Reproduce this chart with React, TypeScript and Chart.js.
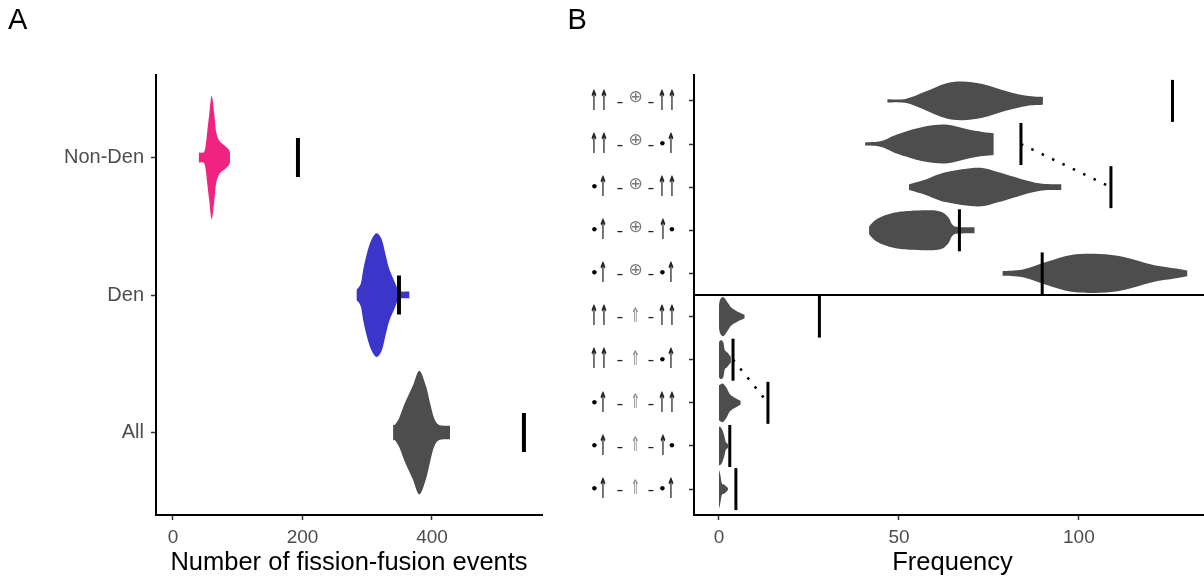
import React, { useEffect, useRef } from "react";
import { Chart, registerables } from "chart.js";

Chart.register(...registerables);
Chart.defaults.font.family = "'Liberation Sans', Arial, Helvetica, sans-serif";

// ---------- Panel A data ----------
const groupsA = ["Non-Den", "Den", "All"];
const colorsA = ["#F02480", "#3B35C9", "#4D4D4D"];
const xTicksA = [0, 200, 400];
// [value, relative density] along each violin
const violinNonDen: [number, number][] = [
  [40, 0.08], [48, 0.09], [51, 0.24], [53, 0.43], [56, 0.7], [59.7, 1],
  [63.8, 0.7], [66.4, 0.43], [71.5, 0.27], [80, 0.19], [86, 0.13], [88, 0.08],
];
const violinDen: [number, number][] = [
  [283.7, 0.085], [290, 0.18], [294, 0.42], [300, 0.69], [306.8, 0.9], [314.5, 1],
  [322.3, 0.9], [327.4, 0.69], [334, 0.42], [342.9, 0.2], [348, 0.07], [352, 0.055], [365, 0.055],
];
const violinAll: [number, number][] = [
  [340, 0.13], [343, 0.13], [349.5, 0.24], [358.3, 0.48], [370.2, 0.75], [380.4, 1],
  [390.7, 0.75], [396.9, 0.48], [403, 0.24], [409.8, 0.13], [420, 0.11], [427.8, 0.11],
];
const observedA = [193, 349, 542];

// ---------- Panel B data ----------
const motifsB = [
  "↑↑ - ⊕ - ↑↑",
  "↑↑ - ⊕ - •↑",
  "•↑ - ⊕ - ↑↑",
  "•↑ - ⊕ - ↑•",
  "•↑ - ⊕ - •↑",
  "↑↑ - ⇑ - ↑↑",
  "↑↑ - ⇑ - •↑",
  "•↑ - ⇑ - ↑↑",
  "•↑ - ⇑ - ↑•",
  "•↑ - ⇑ - •↑",
];
const xTicksB = [0, 50, 100];
const violin1: [number, number][] = [[46.8, 0.08], [51.8, 0.1], [57.4, 0.48], [63, 0.9], [67.6, 1], [73.2, 0.87], [79.9, 0.5], [85.5, 0.26], [90, 0.2]];
const violin2: [number, number][] = [[40.6, 0.08], [45.1, 0.15], [49.6, 0.5], [56.3, 0.87], [63, 1], [68.7, 0.77], [73.2, 0.62], [76.3, 0.56]];
const violin3: [number, number][] = [[52.8, 0.15], [57.4, 0.4], [63, 0.77], [72, 1], [77.7, 0.77], [84.4, 0.4], [88.9, 0.2], [92.2, 0.15], [95.1, 0.15]];
const violin4: [number, number][] = [[41.7, 0.2], [44, 0.6], [48.5, 0.9], [53, 1], [60.8, 1], [63.6, 0.7], [64.8, 0.3], [66.4, 0.17], [71, 0.15]];
const violin5: [number, number][] = [[78.8, 0.12], [84.4, 0.2], [91.1, 0.6], [97.9, 0.95], [105.7, 1], [112.5, 0.85], [120.4, 0.45], [127.1, 0.25], [130.1, 0.15]];
const violin6: [number, number][] = [[0, 0.6], [0.4, 0.9], [1.3, 1], [2.5, 0.7], [3.5, 0.45], [5.2, 0.25], [7.1, 0.1]];
const violin7: [number, number][] = [[0, 0.9], [0.5, 1], [1.2, 0.9], [1.6, 0.5], [2.2, 0.4], [3.3, 0.15]];
const violin8: [number, number][] = [[0, 0.9], [1, 1], [2, 0.8], [3, 0.45], [4, 0.3], [5, 0.2], [6, 0.1]];
const violin9: [number, number][] = [[0, 1], [0.5, 0.95], [1, 0.8], [1.5, 0.5], [1.9, 0.2], [2.5, 0.1]];
const violin10: [number, number][] = [[0, 1], [0.3, 0.8], [0.8, 0.3], [1.3, 0.25], [2, 0.15], [2.5, 0.05]];
const observedB = [126, 83.9, 108.9, 66.8, 89.8, 27.9, 3.9, 13.6, 3, 4.7];
const linkedPairsB: [number, number][] = [[1, 2], [6, 7]];
const separatorB = 4.5;

const violinsA = [violinNonDen, violinDen, violinAll];
const violinsB = [violin1, violin2, violin3, violin4, violin5, violin6, violin7, violin8, violin9, violin10];

function smoothPath(ctx: CanvasRenderingContext2D, pts: { x: number; y: number }[], move: boolean) {
  if (move) ctx.moveTo(pts[0].x, pts[0].y);
  else ctx.lineTo(pts[0].x, pts[0].y);
  for (let i = 0; i < pts.length - 1; i++) {
    const p0 = pts[Math.max(0, i - 1)];
    const p1 = pts[i];
    const p2 = pts[i + 1];
    const p3 = pts[Math.min(pts.length - 1, i + 2)];
    const c1x = p1.x + (p2.x - p0.x) / 6;
    const c1y = p1.y + (p2.y - p0.y) / 6;
    const c2x = p2.x - (p3.x - p1.x) / 6;
    const c2y = p2.y - (p3.y - p1.y) / 6;
    ctx.bezierCurveTo(c1x, c1y, c2x, c2y, p2.x, p2.y);
  }
}

function violinPlugin(violins: [number, number][][], colors: string[], halfWidth: number) {
  return {
    id: "violins",
    beforeDatasetsDraw(chart: any) {
      const { ctx, scales } = chart;
      const x = scales.x;
      const y = scales.y;
      violins.forEach((v, i) => {
        const top = v.map(([val, d]) => ({ x: x.getPixelForValue(val), y: y.getPixelForValue(i - d * halfWidth) }));
        const bottom = v
          .map(([val, d]) => ({ x: x.getPixelForValue(val), y: y.getPixelForValue(i + d * halfWidth) }))
          .reverse();
        ctx.save();
        ctx.beginPath();
        smoothPath(ctx, top, true);
        smoothPath(ctx, bottom, false);
        ctx.closePath();
        ctx.fillStyle = colors[i];
        ctx.fill();
        ctx.restore();
      });
    },
  };
}

// Draws the motif pictogram labels of panel B as text glyphs
function drawGlyph(ctx: CanvasRenderingContext2D, ch: string, x: number, y: number, font: string, sx: number, color: string) {
  ctx.save();
  ctx.translate(x, y);
  ctx.scale(sx, 1);
  ctx.font = font;
  ctx.fillStyle = color;
  ctx.textAlign = "center";
  ctx.textBaseline = "middle";
  ctx.fillText(ch, 0, 0);
  ctx.restore();
}

function drawMotifPart(ctx: CanvasRenderingContext2D, part: string, cx: number, cy: number) {
  const arrow = (x: number) => drawGlyph(ctx, "↑", x, cy + 1.5, "bold 28px 'DejaVu Sans'", 0.38, "#262626");
  const dot = (x: number) => drawGlyph(ctx, "•", x, cy + 0.5, "bold 13px 'DejaVu Sans'", 1, "#000000");
  if (part === "↑↑") {
    arrow(cx - 5);
    arrow(cx + 5);
  } else if (part === "•↑") {
    dot(cx - 4.5);
    arrow(cx + 4);
  } else if (part === "↑•") {
    arrow(cx - 4);
    dot(cx + 5);
  }
}

const motifLabelPlugin = {
  id: "motifLabels",
  afterDraw(chart: any) {
    const { ctx, scales, chartArea } = chart;
    const R = chartArea.left - 17;
    motifsB.forEach((label, i) => {
      const cy = scales.y.getPixelForValue(i);
      const [left, center, right] = label.split(" - ");
      drawMotifPart(ctx, left, R - 78, cy);
      drawGlyph(ctx, "-", R - 57, cy + 1, "17px 'Liberation Sans'", 1.2, "#222222");
      if (center === "⊕") drawGlyph(ctx, center, R - 41.5, cy - 3, "17px 'DejaVu Sans'", 1, "#7a7a7a");
      else drawGlyph(ctx, center, R - 41.5, cy, "20px 'DejaVu Sans'", 0.62, "#8a8a8a");
      drawGlyph(ctx, "-", R - 26, cy + 1, "17px 'Liberation Sans'", 1.2, "#222222");
      drawMotifPart(ctx, right, R - 10, cy);
    });
  },
};

const tickGrid = {
  display: true,
  drawOnChartArea: false,
  drawTicks: true,
  tickLength: 5,
  tickColor: "#333333",
  tickWidth: 1.5,
};
const axisBorder = { display: true, color: "#000000", width: 2 };

function buildA(): any {
  return {
    type: "scatter",
    data: {
      datasets: [
        {
          data: observedA.map((v, i) => ({ x: v, y: i })),
          pointStyle: "line",
          rotation: 90,
          radius: 19.5,
          borderWidth: 4,
          borderColor: "#000000",
          backgroundColor: "#000000",
        },
      ],
    },
    plugins: [violinPlugin(violinsA, colorsA, 0.45)],
    options: {
      animation: false,
      responsive: false,
      events: [],
      layout: { autoPadding: false, padding: { top: 75, right: 18, left: 0, bottom: 0 } },
      plugins: { legend: { display: false }, tooltip: { enabled: false } },
      scales: {
        x: {
          type: "linear",
          min: -26.25,
          max: 569.9,
          afterBuildTicks: (s: any) => {
            s.ticks = xTicksA.map((v) => ({ value: v }));
          },
          afterFit: (s: any) => {
            s.height = 66;
          },
          grid: tickGrid,
          border: axisBorder,
          ticks: { font: { size: 19 }, color: "#4D4D4D", padding: 6, maxRotation: 0, callback: (v: any) => String(v) },
          title: {
            display: true,
            text: "Number of fission-fusion events",
            color: "#000000",
            font: { size: 25.5, lineHeight: 1.2 },
            padding: { top: 0, bottom: 3 },
          },
        },
        y: {
          type: "linear",
          reverse: true,
          min: -0.6,
          max: 2.6,
          afterBuildTicks: (s: any) => {
            s.ticks = groupsA.map((_, i) => ({ value: i }));
          },
          afterFit: (s: any) => {
            s.width = 156;
          },
          grid: tickGrid,
          border: axisBorder,
          ticks: { font: { size: 20 }, color: "#4D4D4D", padding: 7, callback: (v: any) => groupsA[v] ?? "" },
        },
      },
    },
  };
}

function buildB(): any {
  const datasets: any[] = [
    {
      type: "line",
      data: [
        { x: -20, y: separatorB },
        { x: 150, y: separatorB },
      ],
      borderColor: "#000000",
      borderWidth: 2,
      pointRadius: 0,
      fill: false,
    },
    ...linkedPairsB.map(([a, b]) => ({
      type: "line",
      data: [
        { x: observedB[a], y: a },
        { x: observedB[b], y: b },
      ],
      borderColor: "#000000",
      borderWidth: 2.5,
      borderDash: [2.5, 9],
      pointRadius: 0,
      fill: false,
    })),
    {
      data: observedB.map((v, i) => ({ x: v, y: i })),
      pointStyle: "line",
      rotation: 90,
      radius: 21,
      borderWidth: 3,
      borderColor: "#000000",
      backgroundColor: "#000000",
    },
  ];
  return {
    type: "scatter",
    data: { datasets },
    plugins: [violinPlugin(violinsB, violinsB.map(() => "#4D4D4D"), 0.45), motifLabelPlugin],
    options: {
      animation: false,
      responsive: false,
      events: [],
      layout: { autoPadding: false, padding: { top: 75, right: 9, left: 0, bottom: 0 } },
      plugins: { legend: { display: false }, tooltip: { enabled: false } },
      scales: {
        x: {
          type: "linear",
          min: -6.94,
          max: 136.7,
          afterBuildTicks: (s: any) => {
            s.ticks = xTicksB.map((v) => ({ value: v }));
          },
          afterFit: (s: any) => {
            s.height = 66;
          },
          grid: tickGrid,
          border: axisBorder,
          ticks: { font: { size: 19 }, color: "#4D4D4D", padding: 6, maxRotation: 0, callback: (v: any) => String(v) },
          title: {
            display: true,
            text: "Frequency",
            color: "#000000",
            font: { size: 25.5, lineHeight: 1.2 },
            padding: { top: 0, bottom: 3 },
          },
        },
        y: {
          type: "linear",
          reverse: true,
          min: -0.6,
          max: 9.6,
          afterBuildTicks: (s: any) => {
            s.ticks = motifsB.map((_, i) => ({ value: i }));
          },
          afterFit: (s: any) => {
            s.width = 134;
          },
          grid: tickGrid,
          border: axisBorder,
          ticks: { display: true, font: { size: 1 }, color: "rgba(0,0,0,0)", padding: 12, callback: () => "" },
        },
      },
    },
  };
}

export default function App() {
  const refA = useRef<HTMLCanvasElement>(null);
  const refB = useRef<HTMLCanvasElement>(null);
  useEffect(() => {
    const a = new Chart(refA.current as HTMLCanvasElement, buildA());
    const b = new Chart(refB.current as HTMLCanvasElement, buildB());
    return () => {
      a.destroy();
      b.destroy();
    };
  }, []);
  const panelLabel: React.CSSProperties = {
    position: "absolute",
    top: 4.5,
    fontFamily: "'Liberation Sans', Arial, sans-serif",
    fontSize: 29,
    lineHeight: "29px",
    color: "#000",
  };
  return (
    <div
      style={{
        position: "absolute",
        left: 0,
        top: 0,
        width: 1204,
        height: 581,
        overflow: "hidden",
        background: "#ffffff",
      }}
    >
      <canvas ref={refA} width={560} height={581} style={{ position: "absolute", left: 0, top: 0, width: 560, height: 581 }} />
      <canvas ref={refB} width={660} height={581} style={{ position: "absolute", left: 560, top: 0, width: 660, height: 581 }} />
      <div style={{ ...panelLabel, left: 8 }}>A</div>
      <div style={{ ...panelLabel, left: 567.5 }}>B</div>
    </div>
  );
}
